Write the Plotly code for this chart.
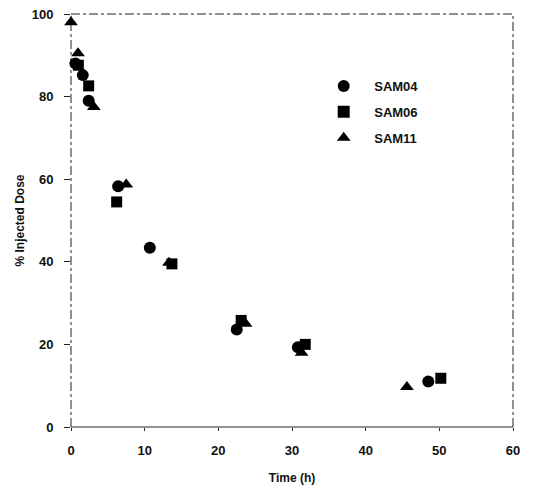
import plotly.graph_objects as go

# Data
t_sam04 = [0.6, 1.6, 2.4, 6.4, 10.7, 22.5, 30.8, 48.5]
y_sam04 = [88.0, 85.2, 79.0, 58.3, 43.4, 23.6, 19.3, 11.0]

t_sam06 = [1.0, 2.4, 6.2, 13.7, 23.1, 31.8, 50.2]
y_sam06 = [87.6, 82.6, 54.5, 39.5, 25.8, 20.0, 11.8]

t_sam11 = [0.0, 0.95, 3.1, 7.5, 13.3, 23.7, 31.3, 45.6]
y_sam11 = [98.0, 90.5, 77.5, 58.7, 39.8, 25.0, 18.0, 9.7]

x_ticks = [0, 10, 20, 30, 40, 50, 60]
y_ticks = [0, 20, 40, 60, 80, 100]

FONT = "Liberation Sans, Arial, sans-serif"

fig = go.Figure()
series = [
    ("SAM04", t_sam04, y_sam04, "circle", 12),
    ("SAM06", t_sam06, y_sam06, "square", 11),
    ("SAM11", t_sam11, y_sam11, "triangle-up", 12),
]
for name, xs, ys, sym, sz in series:
    fig.add_trace(go.Scatter(
        x=xs, y=ys, mode="markers", name=name, legendgroup=name,
        marker=dict(symbol=sym, size=sz, color="black", line=dict(width=0)),
        cliponaxis=False,
    ))

# frame (scanned dashed look)
frame = [
    dict(x0=0, x1=0, y0=0, y1=1, dash="dashdot"),
    dict(x0=0, x1=1, y0=1, y1=1, dash="dashdot"),
    dict(x0=1, x1=1, y0=0, y1=1, dash="dashdot"),
    dict(x0=0, x1=1, y0=0, y1=0, dash="solid"),
]
for f in frame:
    fig.add_shape(type="line", xref="paper", yref="paper",
                  x0=f["x0"], x1=f["x1"], y0=f["y0"], y1=f["y1"],
                  line=dict(color="#222", width=1, dash=f["dash"]), layer="below")

fig.update_layout(
    width=535, height=490,
    margin=dict(l=71, r=22, t=14, b=63),
    paper_bgcolor="white", plot_bgcolor="white",
    font=dict(family=FONT, size=13, color="#111"),
    showlegend=True,
    legend=dict(
        x=0.548, y=0.862, xanchor="left", yanchor="top",
        font=dict(family=FONT, size=13, color="#111", weight="bold"),
        bgcolor="rgba(0,0,0,0)", tracegroupgap=6,
        itemsizing="constant", itemwidth=51,
    ),
    xaxis=dict(
        range=[0, 60], tickvals=x_ticks, ticktext=[str(v) for v in x_ticks],
        showgrid=False, zeroline=False, showline=False, automargin=False,
        ticks="outside", ticklen=3, tickcolor="#222", ticklabelstandoff=8,
        tickfont=dict(family=FONT, size=13, color="#111", weight="bold"),
        title=dict(text="Time (h)", font=dict(family=FONT, size=12, color="#111", weight="bold"), standoff=17),
    ),
    yaxis=dict(
        range=[0, 100], tickvals=y_ticks, ticktext=[str(v) for v in y_ticks],
        showgrid=False, zeroline=False, showline=False, automargin=False,
        ticks="outside", ticklen=6, tickcolor="#222", ticklabelstandoff=8,
        tickfont=dict(family=FONT, size=13, color="#111", weight="bold"),
        title=dict(text="% Injected Dose", font=dict(family=FONT, size=12, color="#111", weight="bold"), standoff=4),
    ),
)

fig.write_html("out.html")
